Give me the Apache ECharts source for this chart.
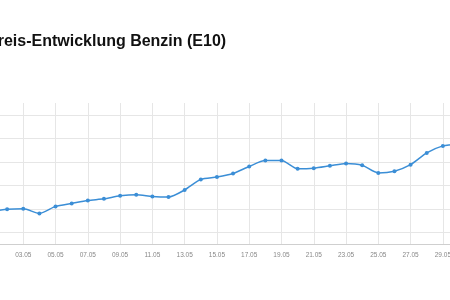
<!DOCTYPE html>
<html><head><meta charset="utf-8">
<script src="https://cdn.jsdelivr.net/npm/echarts@6/dist/echarts.min.js"></script>
<style>html,body{margin:0;padding:0;background:#fff;overflow:hidden;width:450px;height:300px}
#c{position:absolute;left:-9.4px;top:0;width:468.4px;height:300px}</style>
</head><body><div id="c"></div>
<script>
const titleText = "Preis-Entwicklung Benzin (E10)";
const days = ["01.05","02.05","03.05","04.05","05.05","06.05","07.05","08.05","09.05","10.05",
  "11.05","12.05","13.05","14.05","15.05","16.05","17.05","18.05","19.05","20.05",
  "21.05","22.05","23.05","24.05","25.05","26.05","27.05","28.05","29.05","30.05"];
const prices = [1.955,1.959,1.960,1.952,1.964,1.969,1.974,1.977,1.982,1.984,
  1.981,1.980,1.992,2.010,2.014,2.020,2.032,2.042,2.042,2.028,
  2.029,2.033,2.037,2.034,2.021,2.024,2.035,2.055,2.067,2.070];
const yMin = 1.90, yMax = 2.14, yHalfStep = 0.02;

const chart = echarts.init(document.getElementById('c'), null, {renderer:'canvas'});
chart.setOption({
  animation:false,
  backgroundColor:'#fff',
  title:{text:titleText,left:-4,top:34,padding:0,textStyle:{fontFamily:'Liberation Sans, Arial',fontSize:16,fontWeight:'bold',color:'#111'}},
  grid:{left:0,right:0,top:103,bottom:56,containLabel:false,outerBoundsMode:'none'},
  xAxis:{type:'category',data:days,boundaryGap:false,
    axisLine:{show:true,lineStyle:{color:'#cfcfcf',width:1}},
    axisTick:{show:false},
    axisLabel:{interval:1,color:'#888',fontSize:6.5,fontFamily:'Liberation Sans, Arial',margin:7.5,hideOverlap:false},
    splitLine:{show:true,interval:1,lineStyle:{color:'#e6e6e6',width:1}}},
  yAxis:{type:'value',min:yMin,max:yMax,interval:yHalfStep,
    axisLabel:{show:false},axisLine:{show:false},axisTick:{show:false},
    splitLine:{show:true,lineStyle:{color:['rgba(0,0,0,0)','#e6e6e6'],width:1}}},
  series:[{type:'line',data:prices,smooth:0.25,symbol:'circle',symbolSize:4,
    itemStyle:{color:'#3b8ed6'},lineStyle:{color:'#3b8ed6',width:1.5}}]
});
</script></body></html>
